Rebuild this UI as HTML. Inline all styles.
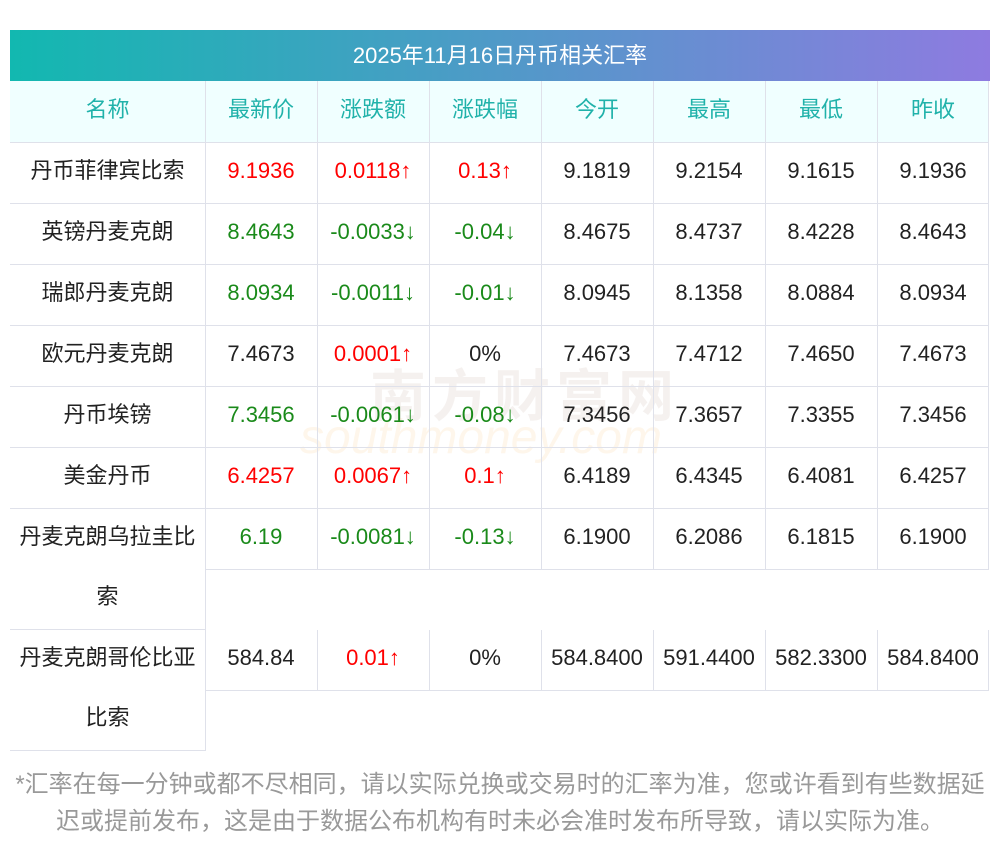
<!DOCTYPE html>
<html><head><meta charset="utf-8"><style>
body{margin:0;width:1000px;height:853px;background:#fff;position:relative;overflow:hidden;font-family:"Liberation Sans","Noto Sans CJK SC",sans-serif;}
.a{position:absolute}
.h{position:absolute;height:1px;background:#dfe1ea}
.v{position:absolute;width:1px;background:#dfe1ea}
.c{position:absolute;height:61px;line-height:61px;text-align:center;font-size:22px;color:#222;white-space:nowrap}
.r{color:#f00}.g{color:#1a8a1a}
.th{color:#20b2aa}
</style></head><body>
<div class="a" style="left:10px;top:30px;width:980px;height:51px;background:linear-gradient(90deg,#12b8b0,#8e7be0);color:#fff;font-size:22px;line-height:51px;text-align:center">2025年11月16日丹币相关汇率</div>
<div class="a" style="left:10px;top:81px;width:979px;height:61px;background:#f0ffff"></div>
<div class="a" style="left:370px;top:352px;font-size:56px;color:rgba(225,215,210,0.35);font-weight:bold;letter-spacing:6px">南方财富网</div>
<div class="a" style="left:300px;top:410px;font-size:48px;color:rgba(253,225,190,0.3);font-style:italic">southmoney.com</div>
<!-- horizontal lines -->
<div class="h" style="left:10px;top:142px;width:979px"></div>
<div class="h" style="left:10px;top:203px;width:979px"></div>
<div class="h" style="left:10px;top:264px;width:979px"></div>
<div class="h" style="left:10px;top:325px;width:979px"></div>
<div class="h" style="left:10px;top:386px;width:979px"></div>
<div class="h" style="left:10px;top:447px;width:979px"></div>
<div class="h" style="left:10px;top:508px;width:979px"></div>
<div class="h" style="left:205px;top:569px;width:784px"></div>
<div class="h" style="left:10px;top:629px;width:196px"></div>
<div class="h" style="left:205px;top:690px;width:784px"></div>
<div class="h" style="left:10px;top:750px;width:196px"></div>
<!-- vertical lines -->
<div class="v" style="left:205px;top:81px;height:670px"></div>
<div class="v" style="left:317px;top:81px;height:488px"></div><div class="v" style="left:317px;top:630px;height:60px"></div>
<div class="v" style="left:429px;top:81px;height:488px"></div><div class="v" style="left:429px;top:630px;height:60px"></div>
<div class="v" style="left:541px;top:81px;height:488px"></div><div class="v" style="left:541px;top:630px;height:60px"></div>
<div class="v" style="left:653px;top:81px;height:488px"></div><div class="v" style="left:653px;top:630px;height:60px"></div>
<div class="v" style="left:765px;top:81px;height:488px"></div><div class="v" style="left:765px;top:630px;height:60px"></div>
<div class="v" style="left:877px;top:81px;height:488px"></div><div class="v" style="left:877px;top:630px;height:60px"></div>
<div class="v" style="left:988px;top:81px;height:488px"></div><div class="v" style="left:988px;top:630px;height:60px"></div>

<!-- header -->
<div class="c th" style="left:10px;top:79px;width:195px">名称</div>
<div class="c th" style="left:205px;top:79px;width:112px">最新价</div>
<div class="c th" style="left:317px;top:79px;width:112px">涨跌额</div>
<div class="c th" style="left:429px;top:79px;width:112px">涨跌幅</div>
<div class="c th" style="left:541px;top:79px;width:112px">今开</div>
<div class="c th" style="left:653px;top:79px;width:112px">最高</div>
<div class="c th" style="left:765px;top:79px;width:112px">最低</div>
<div class="c th" style="left:877px;top:79px;width:112px">昨收</div>

<!-- row1 -->
<div class="c" style="left:10px;top:140px;width:195px">丹币菲律宾比索</div>
<div class="c r" style="left:205px;top:140px;width:112px">9.1936</div>
<div class="c r" style="left:317px;top:140px;width:112px">0.0118↑</div>
<div class="c r" style="left:429px;top:140px;width:112px">0.13↑</div>
<div class="c" style="left:541px;top:140px;width:112px">9.1819</div>
<div class="c" style="left:653px;top:140px;width:112px">9.2154</div>
<div class="c" style="left:765px;top:140px;width:112px">9.1615</div>
<div class="c" style="left:877px;top:140px;width:112px">9.1936</div>
<!-- row2 -->
<div class="c" style="left:10px;top:201px;width:195px">英镑丹麦克朗</div>
<div class="c g" style="left:205px;top:201px;width:112px">8.4643</div>
<div class="c g" style="left:317px;top:201px;width:112px">-0.0033↓</div>
<div class="c g" style="left:429px;top:201px;width:112px">-0.04↓</div>
<div class="c" style="left:541px;top:201px;width:112px">8.4675</div>
<div class="c" style="left:653px;top:201px;width:112px">8.4737</div>
<div class="c" style="left:765px;top:201px;width:112px">8.4228</div>
<div class="c" style="left:877px;top:201px;width:112px">8.4643</div>
<!-- row3 -->
<div class="c" style="left:10px;top:262px;width:195px">瑞郎丹麦克朗</div>
<div class="c g" style="left:205px;top:262px;width:112px">8.0934</div>
<div class="c g" style="left:317px;top:262px;width:112px">-0.0011↓</div>
<div class="c g" style="left:429px;top:262px;width:112px">-0.01↓</div>
<div class="c" style="left:541px;top:262px;width:112px">8.0945</div>
<div class="c" style="left:653px;top:262px;width:112px">8.1358</div>
<div class="c" style="left:765px;top:262px;width:112px">8.0884</div>
<div class="c" style="left:877px;top:262px;width:112px">8.0934</div>
<!-- row4 -->
<div class="c" style="left:10px;top:323px;width:195px">欧元丹麦克朗</div>
<div class="c" style="left:205px;top:323px;width:112px">7.4673</div>
<div class="c r" style="left:317px;top:323px;width:112px">0.0001↑</div>
<div class="c" style="left:429px;top:323px;width:112px">0%</div>
<div class="c" style="left:541px;top:323px;width:112px">7.4673</div>
<div class="c" style="left:653px;top:323px;width:112px">7.4712</div>
<div class="c" style="left:765px;top:323px;width:112px">7.4650</div>
<div class="c" style="left:877px;top:323px;width:112px">7.4673</div>
<!-- row5 -->
<div class="c" style="left:10px;top:384px;width:195px">丹币埃镑</div>
<div class="c g" style="left:205px;top:384px;width:112px">7.3456</div>
<div class="c g" style="left:317px;top:384px;width:112px">-0.0061↓</div>
<div class="c g" style="left:429px;top:384px;width:112px">-0.08↓</div>
<div class="c" style="left:541px;top:384px;width:112px">7.3456</div>
<div class="c" style="left:653px;top:384px;width:112px">7.3657</div>
<div class="c" style="left:765px;top:384px;width:112px">7.3355</div>
<div class="c" style="left:877px;top:384px;width:112px">7.3456</div>
<!-- row6 -->
<div class="c" style="left:10px;top:445px;width:195px">美金丹币</div>
<div class="c r" style="left:205px;top:445px;width:112px">6.4257</div>
<div class="c r" style="left:317px;top:445px;width:112px">0.0067↑</div>
<div class="c r" style="left:429px;top:445px;width:112px">0.1↑</div>
<div class="c" style="left:541px;top:445px;width:112px">6.4189</div>
<div class="c" style="left:653px;top:445px;width:112px">6.4345</div>
<div class="c" style="left:765px;top:445px;width:112px">6.4081</div>
<div class="c" style="left:877px;top:445px;width:112px">6.4257</div>
<!-- row7 -->
<div class="c" style="left:10px;top:506px;width:195px">丹麦克朗乌拉圭比</div>
<div class="c" style="left:10px;top:566px;width:195px">索</div>
<div class="c g" style="left:205px;top:506px;width:112px">6.19</div>
<div class="c g" style="left:317px;top:506px;width:112px">-0.0081↓</div>
<div class="c g" style="left:429px;top:506px;width:112px">-0.13↓</div>
<div class="c" style="left:541px;top:506px;width:112px">6.1900</div>
<div class="c" style="left:653px;top:506px;width:112px">6.2086</div>
<div class="c" style="left:765px;top:506px;width:112px">6.1815</div>
<div class="c" style="left:877px;top:506px;width:112px">6.1900</div>
<!-- row8 -->
<div class="c" style="left:10px;top:627px;width:195px">丹麦克朗哥伦比亚</div>
<div class="c" style="left:10px;top:687px;width:195px">比索</div>
<div class="c" style="left:205px;top:627px;width:112px">584.84</div>
<div class="c r" style="left:317px;top:627px;width:112px">0.01↑</div>
<div class="c" style="left:429px;top:627px;width:112px">0%</div>
<div class="c" style="left:541px;top:627px;width:112px">584.8400</div>
<div class="c" style="left:653px;top:627px;width:112px">591.4400</div>
<div class="c" style="left:765px;top:627px;width:112px">582.3300</div>
<div class="c" style="left:877px;top:627px;width:112px">584.8400</div>

<div class="a" style="left:0px;top:766px;width:1000px;text-align:center;font-size:24px;line-height:37px;color:#999;white-space:nowrap">*汇率在每一分钟或都不尽相同，请以实际兑换或交易时的汇率为准，您或许看到有些数据延<br>迟或提前发布，这是由于数据公布机构有时未必会准时发布所导致，请以实际为准。</div>
</body></html>
